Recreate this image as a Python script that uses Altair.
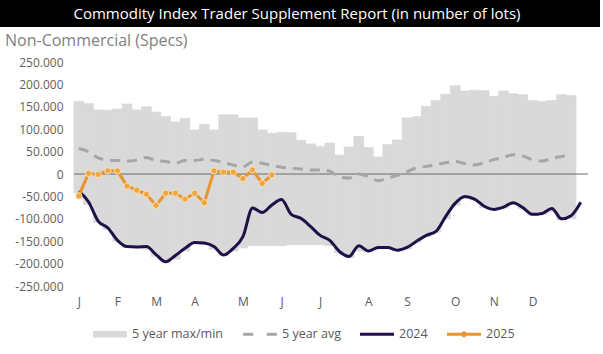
import altair as alt
import pandas as pd

FONT = "Open Sans"

# ---------------- data ----------------
weeks = list(range(1, 53))
max5 = [162000, 157000, 143000, 142000, 145000, 156000, 143000, 150000, 138000, 128000,
        116000, 124000, 98000, 111000, 98000, 132000, 132000, 125000, 125000, 98000,
        91000, 93000, 92000, 75000, 67000, 61000, 69000, 42000, 60000, 84000,
        59000, 38000, 66000, 76000, 125000, 128000, 151000, 164000, 178000, 197000,
        185000, 187000, 186000, 173000, 185000, 179000, 177000, 164000, 162000, 164000,
        177000, 175000]
min5 = [-42000, -68000, -108000, -124000, -150000, -164000, -165000, -168000, -184000, -198000,
        -190000, -172000, -156000, -158000, -168000, -182000, -172000, -165000, -160000, -160000,
        -160000, -160000, -158000, -158000, -158000, -158000, -160000, -176000, -186000, -172000,
        -174000, -167000, -166000, -172000, -167000, -152000, -140000, -130000, -100000, -70000,
        -53000, -58000, -75000, -80000, -76000, -68000, -77000, -92000, -90000, -84000,
        -102000, -100000]
avg5 = [57000, 50000, 36000, 31000, 30000, 29000, 31000, 37000, 30000, 28000,
        24000, 30000, 30000, 33000, 30000, 26000, 20000, 16000, 27000, 24000,
        19000, 15000, 13000, 11000, 9000, 9000, 6000, -7000, -9000, 0,
        -6000, -15000, -9000, -3000, 5000, 14000, 17000, 21000, 25000, 28000,
        23000, 20000, 25000, 32000, 37000, 43000, 40000, 32000, 29000, 35000,
        39000, 43000]

weeks_2024 = list(range(1, 54))
y2024 = [-38000, -62000, -105000, -120000, -148000, -162000, -163000, -162000, -180000, -196000,
         -182000, -166000, -153000, -154000, -162000, -181000, -166000, -140000, -76000, -86000,
         -69000, -57000, -90000, -99000, -117000, -137000, -148000, -173000, -184000, -160000,
         -172000, -164000, -164000, -170000, -164000, -150000, -137000, -128000, -95000, -65000,
         -50000, -56000, -72000, -79000, -74000, -64000, -75000, -90000, -88000, -77000,
         -100000, -93000, -63000]

weeks_2025 = list(range(1, 22))
y2025 = [-49000, 1500, -1000, 7000, 7000, -27000, -36000, -45000, -70000, -43000,
         -43000, -56000, -43000, -64000, 7000, 4000, 4000, -10000, 9000, -21000,
         -2000]

month_weeks = [1, 5, 9, 13, 18, 22, 26, 31, 35, 40, 44, 48]
month_labels = ["J", "F", "M", "A", "M", "J", "J", "A", "S", "O", "N", "D"]

series_names = ["5 year max/min", "5 year avg", "2024", "2025"]
series_colors = ["#d9d9d9", "#a6a6a6", "#1f1147", "#e8952a"]
series_shapes = [
    "M-1,-0.19H1V0.19H-1Z",
    "M-1,-0.09H-0.4V0.09H-1Z M0.4,-0.09H1V0.09H0.4Z",
    "M-1,-0.09H1V0.09H-1Z",
    "M-1,-0.09H1V0.09H-1Z M-0.17,0A0.17,0.17,0,1,1,0.17,0A0.17,0.17,0,1,1,-0.17,0Z",
]

title_text = "Commodity Index Trader Supplement Report (in number of lots)"
subtitle_text = "Non-Commercial (Specs)"

# ---------------- frames ----------------
df_range = pd.DataFrame({"week": weeks, "max": max5, "min": min5, "avg": avg5})
df_2024 = pd.DataFrame({"week": weeks_2024, "value": y2024})
df_2025 = pd.DataFrame({"week": weeks_2025, "value": y2025})
df_leg = pd.DataFrame({"week": [1], "value": [0], "series": ["2025"]})

W, H = 514, 224
X_DOMAIN = [0.5, 53.75]
Y_DOMAIN = [-250000, 250000]

label_expr = " : ".join(
    f"datum.value == {w} ? '{l}'" for w, l in zip(month_weeks, month_labels)
) + " : ''"

x_axis = alt.Axis(values=month_weeks, labelExpr=label_expr, title=None, grid=False,
                  domain=False, ticks=False, tickSize=0, labelPadding=10,
                  labelFont=FONT, labelFontSize=12, labelColor="#595959", labelAngle=0)
y_axis = alt.Axis(values=list(range(-250000, 250001, 50000)), title=None, grid=False,
                  domain=False, ticks=False, tickSize=0, labelPadding=11,
                  labelFont=FONT, labelFontSize=12, labelColor="#5f5f5f",
                  labelExpr="(datum.value < 0 ? '-' : '') + replace(format(abs(datum.value), ','), ',', '.')")

xs = alt.Scale(domain=X_DOMAIN, nice=False, zero=False)
ys = alt.Scale(domain=Y_DOMAIN, nice=False, zero=False)


def xq(field):
    return alt.X(field, type="quantitative", scale=xs, axis=x_axis)


def yq(field):
    return alt.Y(field, type="quantitative", scale=ys, axis=y_axis)


bars = alt.Chart(df_range).transform_calculate(
    x0="datum.week - 0.5", x1="datum.week + 0.5"
).mark_rect(color="#d9d9d9", stroke="#d9d9d9", strokeWidth=0.8).encode(
    x=xq("x0"),
    x2="x1:Q",
    y=yq("min"),
    y2="max:Q",
)

zero = alt.Chart(pd.DataFrame({"v": [0]})).mark_rule(color="#6b6b6b", strokeWidth=1).encode(
    y=yq("v")
)

avg_line = alt.Chart(df_range).mark_line(
    color="#a6a6a6", strokeWidth=3, strokeDash=[10, 7], interpolate="monotone"
).encode(x=xq("week"), y=yq("avg"))

line_2024 = alt.Chart(df_2024).mark_line(
    color="#1f1147", strokeWidth=3, interpolate="monotone"
).encode(x=xq("week"), y=yq("value"))

line_2025 = alt.Chart(df_2025).mark_line(color="#e8952a", strokeWidth=3).encode(
    x=xq("week"), y=yq("value")
)
pts_2025 = alt.Chart(df_2025).mark_point(
    filled=True, fill="#f0a540", stroke="#fbe3b8", strokeWidth=1, size=40, opacity=1
).encode(x=xq("week"), y=yq("value"))

leg = alt.Legend(title=None, orient="none", legendX=19, legendY=255, direction="horizontal",
                 symbolSize=1156, symbolStrokeWidth=0, labelFont=FONT, labelFontSize=12.5,
                 labelColor="#595959", labelOffset=5, columnPadding=19)
legend_layer = alt.Chart(df_leg).transform_filter("datum.week < 0").mark_point(
    filled=True, opacity=1
).encode(
    x=xq("week"), y=yq("value"),
    color=alt.Color("series:N", scale=alt.Scale(domain=series_names, range=series_colors), legend=leg),
    shape=alt.Shape("series:N", scale=alt.Scale(domain=series_names, range=series_shapes), legend=leg),
)

one = pd.DataFrame({"a": [0]})
banner = alt.Chart(one).mark_rect(color="black").encode(
    x=alt.value(-74), x2=alt.value(600 - 74), y=alt.value(-62), y2=alt.value(-35)
)
title = alt.Chart(one).mark_text(
    text=title_text, color="white", font=FONT, fontSize=15, align="center", baseline="middle"
).encode(x=alt.value(297 - 74), y=alt.value(-48))
subtitle = alt.Chart(one).mark_text(
    text=subtitle_text, color="#808080", font=FONT, fontSize=16, align="left", baseline="middle"
).encode(x=alt.value(5 - 74), y=alt.value(-21))

chart = alt.layer(
    bars, zero, avg_line, line_2024, line_2025, pts_2025, legend_layer, banner, title, subtitle
).properties(
    width=W, height=H,
    autosize=alt.AutoSizeParams(type="none"),
    padding={"left": 74, "top": 62, "right": 603 - 74 - W, "bottom": 354 - 62 - H},
    background="white",
).configure_view(stroke=None)

chart.save("out.html", embed_options={"renderer": "svg", "actions": False})
